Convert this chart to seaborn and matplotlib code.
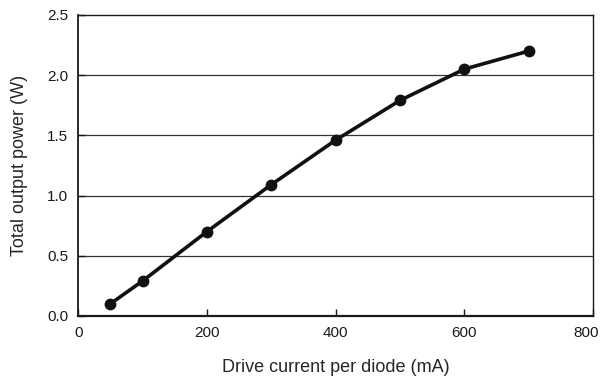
import pandas as pd
import seaborn as sns
import matplotlib.pyplot as plt
import matplotlib.transforms as mtransforms

# Data
current_ma = [50, 100, 200, 300, 400, 500, 600, 700]
power_w = [0.10, 0.29, 0.70, 1.09, 1.46, 1.79, 2.05, 2.20]

df = pd.DataFrame({'current': current_ma, 'power': power_w})

sns.set_style('white')
plt.rcParams['font.family'] = ['Liberation Sans', 'DejaVu Sans']

fig = plt.figure(figsize=(6.01, 3.82), dpi=100)
ax = fig.add_axes([0.13, 0.173, 0.857, 0.788])

# horizontal grid lines
for yv in [0.5, 1.0, 1.5, 2.0]:
    ax.axhline(yv, color='#333333', linewidth=0.9, zorder=0)

sns.lineplot(data=df, x='current', y='power', ax=ax, color='#111111',
             linewidth=2.6, marker='o', markersize=8.5, markeredgewidth=0)

ax.set_xlim(0, 800)
ax.set_ylim(0, 2.5)
ax.set_xticks([0, 200, 400, 600, 800])
ax.set_yticks([0.0, 0.5, 1.0, 1.5, 2.0, 2.5])
ax.set_yticklabels(['0.0', '0.5', '1.0', '1.5', '2.0', '2.5'])
ax.tick_params(direction='in', length=5, width=1, colors='#1a1a1a',
               labelsize=11, pad=7, left=True, bottom=True)
ax.tick_params(axis='x', pad=7)

# nudge the last x tick label so it stays inside the figure
lab = ax.get_xticklabels()[-1]
lab.set_transform(lab.get_transform() +
                  mtransforms.ScaledTranslation(-7 / 100, 0, fig.dpi_scale_trans))

for name, sp in ax.spines.items():
    sp.set_color('#1a1a1a')
    sp.set_linewidth(1.0)
ax.spines['bottom'].set_linewidth(1.6)
ax.spines['left'].set_linewidth(1.3)

ax.set_xlabel('Drive current per diode (mA)', fontsize=13, labelpad=14)
ax.set_ylabel('Total output power (W)', fontsize=13, labelpad=14)

fig.savefig('out.png', dpi=100)
